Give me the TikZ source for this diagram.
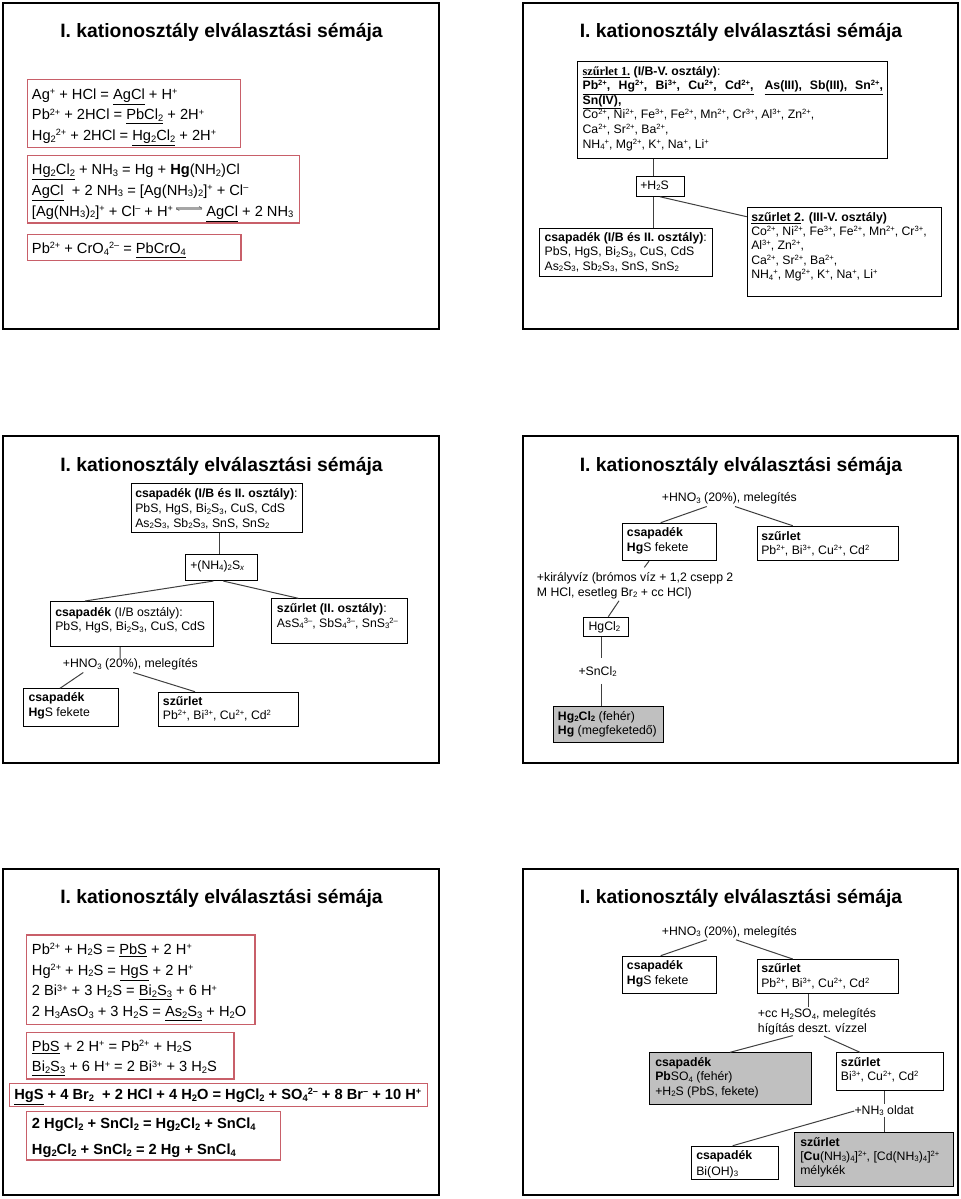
\documentclass[tikz,border=0pt]{standalone}
\usepackage{fontspec}
\setmainfont{Liberation Sans}
\newfontfamily\tms{Liberation Serif}
\usetikzlibrary{calc}
\definecolor{boxred}{RGB}{200,95,105}
\definecolor{boxgray}{RGB}{192,192,192}
\newcommand\xup[1]{\raisebox{0.32em}{\scalebox{0.62}{#1}}}
\newcommand\xdn[1]{\raisebox{-0.13em}{\scalebox{0.64}{#1}}}
\newcommand\uln[1]{\underline{#1}}
\newcommand\bx[6]{\node[#1, minimum width={(#5-#3)*0.75pt}, minimum height={(#6-#4)*0.75pt}] (#2) at (#3,#4) {};}
\newcommand\tx[5]{\node[#1] (#2) at (#3,#4) {#5};}
\begin{document}
\begin{tikzpicture}[x=0.75pt,y=-0.75pt,
  slidebox/.style={draw=black, line width=1.6pt, inner sep=0pt, anchor=north west},
  rbox/.style={draw=boxred, line width=1pt, inner sep=0pt, anchor=north west},
  kbox/.style={draw=black, line width=0.8pt, inner sep=0pt, anchor=north west},
  gbox/.style={kbox, fill=boxgray},
  ttl/.style={anchor=base, inner sep=0pt, font=\fontsize{14.5}{17}\selectfont\bfseries},
  tA/.style={anchor=base west, inner sep=0pt, font=\fontsize{11}{13}\selectfont},
  tB/.style={anchor=base west, inner sep=0pt, font=\fontsize{9.2}{11}\selectfont},
  conn/.style={draw=black!75, line width=0.75pt}]
\fill[white] (0,0) rectangle (960,1199);
\useasboundingbox (0,0) rectangle (960,1199);

% ---------------- Slide 1
\bx{slidebox}{sl1}{1.5}{1.5}{437.5}{327.5}
\tx{ttl}{ti1}{221.5}{37}{I. kationosztály elválasztási sémája}
\bx{rbox}{s1a}{26.7}{79}{240}{146.7}
\tx{tA}{s1a1}{31.7}{99}{Ag\xup{+} + HCl = \uln{AgCl} + H\xup{+}}
\tx{tA}{s1a2}{31.7}{119.7}{Pb\xup{2+} + 2HCl = \uln{PbCl\xdn{2}} + 2H\xup{+}}
\tx{tA}{s1a3}{31.7}{140.3}{Hg\xdn{2}\xup{2+} + 2HCl = \uln{Hg\xdn{2}Cl\xdn{2}} + 2H\xup{+}}
\bx{rbox}{s1b}{26.7}{154.7}{299}{222.3}
\tx{tA}{s1b1}{31.7}{174.3}{\uln{Hg\xdn{2}Cl\xdn{2}} + NH\xdn{3} = Hg + \textbf{Hg}(NH\xdn{2})Cl}
\tx{tA}{s1b2}{31.7}{195}{\uln{AgCl}\ \ + 2 NH\xdn{3} = [Ag(NH\xdn{3})\xdn{2}]\xup{+} + Cl\xup{–}}
\tx{tA}{s1b3}{31.7}{216}{[Ag(NH\xdn{3})\xdn{2}]\xup{+} + Cl\xup{–} + H\xup{+}}
\tx{tA}{s1b4}{206}{216}{\uln{AgCl} + 2 NH\xdn{3}}
\draw[gray!70, line width=1.8pt] ($(s1b3.base east)+(3,-7.5)$) -- ($(s1b4.base west)+(-4,-7.5)$);
\draw[black!60, line width=0.6pt] ($(s1b3.base east)+(3,-7.5)$) -- ++(3,2);
\draw[black!60, line width=0.6pt] ($(s1b4.base west)+(-4,-7.5)$) -- ++(-3,-2);
\bx{rbox}{s1c}{26.7}{234}{240.3}{260}
\tx{tA}{s1c1}{31.7}{253.3}{Pb\xup{2+} + CrO\xdn{4}\xup{2–} = \uln{PbCrO\xdn{4}}}

% ---------------- Slide 2
\bx{slidebox}{sl2}{521.5}{1.5}{956.5}{327.5}
\tx{ttl}{ti2}{741}{37}{I. kationosztály elválasztási sémája}
\bx{kbox}{s2a}{577.3}{60.7}{887.3}{157.7}
\tx{tB}{s2a1}{582.3}{75}{{\tms\bfseries\uln{szűrlet 1.}} \textbf{(I/B-V. osztály)}:}
\tx{tB}{s2a2}{582.3}{89.5}{\bfseries\uln{\makebox[128.25pt][s]{Pb\xup{2+}, Hg\xup{2+}, Bi\xup{3+}, Cu\xup{2+}, Cd\xup{2+},}}}
\tx{tB}{s2a2b}{764.3}{89.5}{\bfseries\uln{\makebox[88.8pt][s]{As(III), Sb(III), Sn\xup{2+},}}}
\tx{tB}{s2a3}{582.3}{104}{\bfseries\uln{Sn(IV),}}
\tx{tB}{s2a4}{582.3}{118.8}{Co\xup{2+}, Ni\xup{2+}, Fe\xup{3+}, Fe\xup{2+}, Mn\xup{2+}, Cr\xup{3+}, Al\xup{3+}, Zn\xup{2+},}
\tx{tB}{s2a5}{582.3}{133.3}{Ca\xup{2+}, Sr\xup{2+}, Ba\xup{2+},}
\tx{tB}{s2a6}{582.3}{148}{NH\xdn{4}\xup{+}, Mg\xup{2+}, K\xup{+}, Na\xup{+}, Li\xup{+}}
\bx{kbox}{s2b}{635.7}{175.7}{683.7}{195.7}
\tx{tB}{s2b1}{640}{189.3}{+H\xdn{2}S}
\bx{kbox}{s2c}{539}{227.7}{711.7}{275.7}
\tx{tB}{s2c1}{544.3}{241.7}{\textbf{csapadék (I/B és II. osztály)}:}
\tx{tB}{s2c2}{544.3}{255.7}{PbS, HgS, Bi\xdn{2}S\xdn{3}, CuS, CdS}
\tx{tB}{s2c3}{544.3}{270}{As\xdn{2}S\xdn{3}, Sb\xdn{2}S\xdn{3}, SnS, SnS\xdn{2}}
\bx{kbox}{s2d}{746.7}{206.7}{940.7}{296}
\tx{tB}{s2d1}{751}{221}{\textbf{\uln{szűrlet 2}. (III-V. osztály)}}
\tx{tB}{s2d2}{751}{235.3}{Co\xup{2+}, Ni\xup{2+}, Fe\xup{3+}, Fe\xup{2+}, Mn\xup{2+}, Cr\xup{3+},}
\tx{tB}{s2d3}{751}{249.7}{Al\xup{3+}, Zn\xup{2+},}
\tx{tB}{s2d4}{751}{264}{Ca\xup{2+}, Sr\xup{2+}, Ba\xup{2+},}
\tx{tB}{s2d5}{751}{278.7}{NH\xdn{4}\xup{+}, Mg\xup{2+}, K\xup{+}, Na\xup{+}, Li\xup{+}}
\draw[conn] ($(s2a.south west)+(76,0)$) -- ($(s2b.north west)+(17.6,0)$);
\draw[conn] ($(s2b.south west)+(17.6,0)$) -- ($(s2c.north west)+(114.3,0)$);
\draw[conn] ($(s2b.south west)+(24.3,0)$) -- ($(s2d.north west)+(0,10)$);

% ---------------- Slide 3
\bx{slidebox}{sl3}{1.5}{435}{437.5}{761.5}
\tx{ttl}{ti3}{221.5}{471.5}{I. kationosztály elválasztási sémája}
\bx{kbox}{s3a}{130.7}{483.3}{302.3}{532.3}
\tx{tB}{s3a1}{135}{497.5}{\textbf{csapadék (I/B és II. osztály)}:}
\tx{tB}{s3a2}{135}{512.5}{PbS, HgS, Bi\xdn{2}S\xdn{3}, CuS, CdS}
\tx{tB}{s3a3}{135}{527}{As\xdn{2}S\xdn{3}, Sb\xdn{2}S\xdn{3}, SnS, SnS\xdn{2}}
\bx{kbox}{s3b}{185}{554.3}{256.7}{580}
\tx{tB}{s3b1}{190}{569.3}{+(NH\xdn{4})\xdn{2}S\xdn{\textit{x}}}
\bx{kbox}{s3c}{50}{601}{212.7}{646}
\tx{tB}{s3c1}{55}{616.5}{\textbf{csapadék} (I/B osztály):}
\tx{tB}{s3c2}{55}{630.5}{PbS, HgS, Bi\xdn{2}S\xdn{3}, CuS, CdS}
\bx{kbox}{s3d}{271}{598.3}{406.7}{642.7}
\tx{tB}{s3d1}{276.7}{612.7}{\textbf{szűrlet (II. osztály)}:}
\tx{tB}{s3d2}{276.7}{627.3}{AsS\xdn{4}\xup{3–}, SbS\xdn{4}\xup{3–}, SnS\xdn{3}\xup{2–}}
\tx{tB}{s3l}{62.7}{667.7}{+HNO\xdn{3} (20\%), melegítés}
\bx{kbox}{s3e}{22.7}{688.3}{117.7}{726}
\tx{tB}{s3e1}{28.3}{701.7}{\textbf{csapadék}}
\tx{tB}{s3e2}{28.3}{716.7}{\textbf{Hg}S fekete}
\bx{kbox}{s3f}{157.7}{691.7}{298.3}{726}
\tx{tB}{s3f1}{162.7}{705}{\textbf{szűrlet}}
\tx{tB}{s3f2}{162.7}{719.3}{Pb\xup{2+}, Bi\xup{3+}, Cu\xup{2+}, Cd\xup{2}}
\draw[conn] ($(s3a.south west)+(88.6,0)$) -- ($(s3b.north west)+(34.3,0)$);
\draw[conn] ($(s3b.south west)+(28.3,0)$) -- ($(s3c.north west)+(35,0)$);
\draw[conn] ($(s3b.south west)+(38.3,0)$) -- ($(s3d.north west)+(27.3,0)$);
\draw[conn] ($(s3c.south west)+(70,0)$) -- ($(s3l.north west)+(57.3,0)$);
\draw[conn] ($(s3l.south west)+(20.6,2)$) -- ($(s3e.north west)+(37.3,0)$);
\draw[conn] ($(s3l.south west)+(70.6,2)$) -- ($(s3f.north west)+(37.3,0)$);

% ---------------- Slide 4
\bx{slidebox}{sl4}{521.5}{435}{956.5}{761.5}
\tx{ttl}{ti4}{741}{471.5}{I. kationosztály elválasztási sémája}
\tx{tB}{s4l}{661.7}{501.7}{+HNO\xdn{3} (20\%), melegítés}
\bx{kbox}{s4a}{621.7}{522.7}{716}{560}
\tx{tB}{s4a1}{626.7}{536.7}{\textbf{csapadék}}
\tx{tB}{s4a2}{626.7}{551}{\textbf{Hg}S fekete}
\bx{kbox}{s4b}{756.7}{525.7}{897.7}{560}
\tx{tB}{s4b1}{761}{540}{\textbf{szűrlet}}
\tx{tB}{s4b2}{761}{554.3}{Pb\xup{2+}, Bi\xup{3+}, Cu\xup{2+}, Cd\xup{2}}
\tx{tB}{s4k1}{536.7}{581.7}{+királyvíz (brómos víz + 1,2 csepp 2}
\tx{tB}{s4k2}{536.7}{596}{M HCl, esetleg Br\xdn{2} + cc HCl)}
\bx{kbox}{s4c}{583.3}{616.7}{628.3}{636}
\tx{tB}{s4c1}{588.3}{630}{HgCl\xdn{2}}
\tx{tB}{s4s}{578.3}{675}{+SnCl\xdn{2}}
\bx{gbox}{s4d}{552.7}{705.7}{662.7}{741.7}
\tx{tB}{s4d1}{557.7}{720}{\textbf{Hg\xdn{2}Cl\xdn{2}} (fehér)}
\tx{tB}{s4d2}{557.7}{734.3}{\textbf{Hg} (megfeketedő)}
\draw[conn] ($(s4l.south west)+(45,2)$) -- ($(s4a.north west)+(39,0)$);
\draw[conn] ($(s4l.south west)+(73.3,2)$) -- ($(s4b.north west)+(36,0)$);
\draw[conn] ($(s4a.south west)+(27.3,0)$) -- ($(s4k1.north west)+(107.6,-5)$);
\draw[conn] ($(s4k2.south west)+(82.3,2)$) -- ($(s4c.north west)+(25,0)$);
\draw[conn] ($(s4c.south west)+(17.7,0)$) -- ($(s4s.north west)+(22.7,-7.7)$);
\draw[conn] ($(s4s.south west)+(22.7,7)$) -- ($(s4d.north west)+(48.3,0)$);

% ---------------- Slide 5
\bx{slidebox}{sl5}{1.5}{868}{437.5}{1193.5}
\tx{ttl}{ti5}{221.5}{903.5}{I. kationosztály elválasztási sémája}
\bx{rbox}{s5a}{26}{934.3}{254.3}{1024}
\tx{tA}{s5a1}{31.7}{954}{Pb\xup{2+} + H\xdn{2}S = \uln{PbS} + 2 H\xup{+}}
\tx{tA}{s5a2}{31.7}{975}{Hg\xup{2+} + H\xdn{2}S = \uln{HgS} + 2 H\xup{+}}
\tx{tA}{s5a3}{31.7}{995.7}{2 Bi\xup{3+} + 3 H\xdn{2}S = \uln{Bi\xdn{2}S\xdn{3}} + 6 H\xup{+}}
\tx{tA}{s5a4}{31.7}{1016.7}{2 H\xdn{3}AsO\xdn{3} + 3 H\xdn{2}S = \uln{As\xdn{2}S\xdn{3}} + H\xdn{2}O}
\bx{rbox}{s5b}{26}{1031.7}{233.3}{1078.3}
\tx{tA}{s5b1}{31.7}{1051}{\uln{PbS} + 2 H\xup{+} = Pb\xup{2+} + H\xdn{2}S}
\tx{tA}{s5b2}{31.7}{1071.7}{\uln{Bi\xdn{2}S\xdn{3}} + 6 H\xup{+} = 2 Bi\xup{3+} + 3 H\xdn{2}S}
\bx{rbox}{s5c}{9}{1082.7}{426.7}{1105.7}
\tx{tA}{s5c1}{14}{1099.3}{\bfseries\uln{HgS} + 4 Br\xdn{2}\ \ + 2 HCl + 4 H\xdn{2}O = HgCl\xdn{2} + SO\xdn{4}\xup{2–} + 8 Br\xup{–} + 10 H\xup{+}}
\bx{rbox}{s5d}{26}{1110.7}{280}{1159.3}
\tx{tA}{s5d1}{31.7}{1128.3}{\bfseries 2 HgCl\xdn{2} + SnCl\xdn{2} = Hg\xdn{2}Cl\xdn{2} + SnCl\xdn{4}}
\tx{tA}{s5d2}{31.7}{1154.3}{\bfseries Hg\xdn{2}Cl\xdn{2} + SnCl\xdn{2} = 2 Hg + SnCl\xdn{4}}

% ---------------- Slide 6
\bx{slidebox}{sl6}{521.5}{868}{956.5}{1193.5}
\tx{ttl}{ti6}{741}{903.5}{I. kationosztály elválasztási sémája}
\tx{tB}{s6l}{661.7}{935}{+HNO\xdn{3} (20\%), melegítés}
\bx{kbox}{s6a}{621.7}{955.7}{716}{993.3}
\tx{tB}{s6a1}{626.7}{969.3}{\textbf{csapadék}}
\tx{tB}{s6a2}{626.7}{984}{\textbf{Hg}S fekete}
\bx{kbox}{s6b}{756.7}{959}{897.7}{993.3}
\tx{tB}{s6b1}{761}{972.7}{\textbf{szűrlet}}
\tx{tB}{s6b2}{761}{987.3}{Pb\xup{2+}, Bi\xup{3+}, Cu\xup{2+}, Cd\xup{2}}
\tx{tB}{s6m1}{757.7}{1017.7}{+cc H\xdn{2}SO\xdn{4}, melegítés}
\tx{tB}{s6m2}{757.7}{1032.3}{hígítás deszt. vízzel}
\bx{gbox}{s6c}{649.3}{1052.3}{810.7}{1104}
\tx{tB}{s6c1}{655}{1066}{\textbf{csapadék}}
\tx{tB}{s6c2}{655}{1080.7}{\textbf{Pb}SO\xdn{4} (fehér)}
\tx{tB}{s6c3}{655}{1095}{+H\xdn{2}S (PbS, fekete)}
\bx{kbox}{s6d}{835.7}{1052.3}{942.7}{1090}
\tx{tB}{s6d1}{840.7}{1066}{\textbf{szűrlet}}
\tx{tB}{s6d2}{840.7}{1080.7}{Bi\xup{3+}, Cu\xup{2+}, Cd\xup{2}}
\tx{tB}{s6n}{854.3}{1114}{+NH\xdn{3} oldat}
\bx{kbox}{s6e}{690.7}{1145.7}{778.3}{1179.3}
\tx{tB}{s6e1}{696}{1159.3}{\textbf{csapadék}}
\tx{tB}{s6e2}{696}{1175}{Bi(OH)\xdn{3}}
\bx{gbox}{s6f}{794.3}{1131.7}{953.3}{1186}
\tx{tB}{s6f1}{800}{1146}{\textbf{szűrlet}}
\tx{tB}{s6f2}{800}{1160}{[\textbf{Cu}(NH\xdn{3})\xdn{4}]\xup{2+}, [Cd(NH\xdn{3})\xdn{4}]\xup{2+}}
\tx{tB}{s6f3}{800}{1174.3}{mélykék}
\draw[conn] ($(s6l.south west)+(45,2)$) -- ($(s6a.north west)+(39,0)$);
\draw[conn] ($(s6l.south west)+(74.3,2)$) -- ($(s6b.north west)+(36,0)$);
\draw[conn] ($(s6b.south west)+(51.6,0)$) -- ($(s6m1.north west)+(50.6,-1)$);
\draw[conn] ($(s6m2.south west)+(35,0.5)$) -- ($(s6c.north west)+(80.7,0)$);
\draw[conn] ($(s6m2.south west)+(66.3,1)$) -- ($(s6d.north west)+(24.3,0)$);
\draw[conn] ($(s6d.south west)+(48.3,0)$) -- ($(s6n.north west)+(29.7,-1)$);
\draw[conn] ($(s6n.south west)+(29.7,1)$) -- ($(s6f.north west)+(89.7,0)$);
\draw[conn] ($(s6n.base west)+(0,-3)$) -- ($(s6e.north west)+(42,0)$);
\end{tikzpicture}
\end{document}
